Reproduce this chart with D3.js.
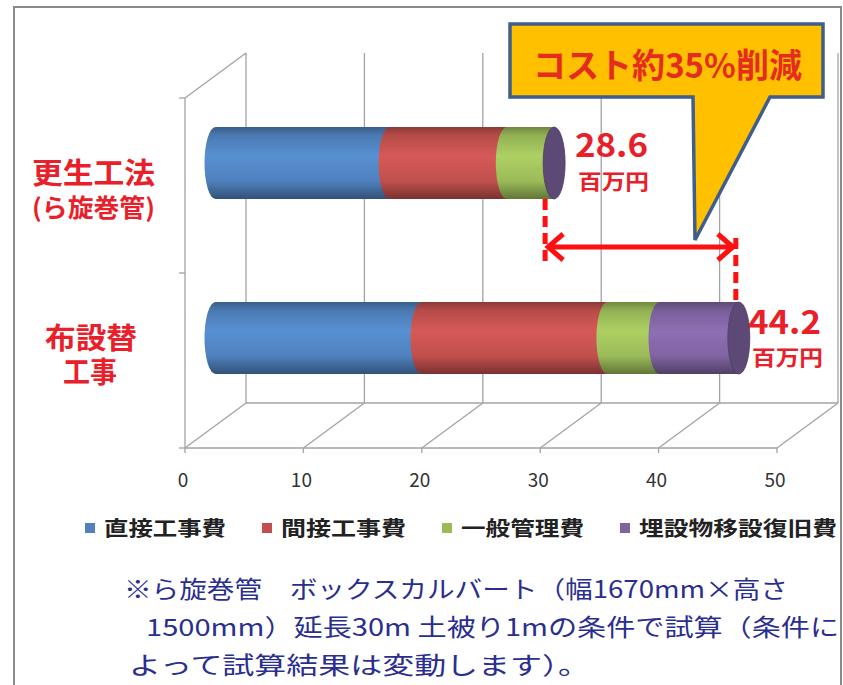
<!DOCTYPE html>
<html>
<head>
<meta charset="utf-8">
<script src="https://cdn.jsdelivr.net/npm/d3@7"></script>
<style>
body { margin: 0; background: #fff; }
text { font-family: "Noto Sans CJK JP", "Noto Sans", sans-serif; }
</style>
</head>
<body>
<div id="chart"></div>
<script>
// data (百万円)
const categories = ["更生工法", "布設替工事"];
const series = ["直接工事費", "間接工事費", "一般管理費", "埋設物移設復旧費"];
const costRenewal = [14.7, 9.9, 4.0, 0];
const costReplace = [17.4, 15.7, 4.4, 6.7];
const totals = [28.6, 44.2];
const xTicks = [0, 10, 20, 30, 40, 50];
const seriesColors = ["#4f81bd", "#c0504d", "#9bbb59", "#8064a2"];
const catLabels = [["更生工法", "(ら旋巻管)"], ["布設替", "工事"]];
const calloutText = "コスト約35%削減";
const noteLines = [
    "※ら旋巻管　ボックスカルバート（幅1670mm×高さ",
    "1500mm）延長30m 土被り1mの条件で試算（条件に",
    "よって試算結果は変動します）。"
];

const width = 843, height = 685;
const red = "#e8202a";

var svg = d3.select("#chart")
    .append("svg")
    .attr("width", width)
    .attr("height", height);

// outer frame
svg.append("rect")
    .attr("x", 14).attr("y", 7)
    .attr("width", 827).attr("height", 700)
    .attr("fill", "#fff")
    .attr("stroke", "#8a8a8a")
    .attr("stroke-width", 2);

// scales: front plane of the 3d box, back plane is shifted by (DX, DY)
const DX = 61, DY = -45;
var x = d3.scaleLinear().domain([0, 50]).range([185, 777]);
var y = d3.scaleBand().domain(categories).range([98, 448]);
const xBar = v => x(v) + DX / 2;
const yBar = c => y(c) + y.bandwidth() / 2 + DY / 2;
const floorY = 448, topY = 98;

var grid = svg.append("g")
    .attr("stroke", "#a3a3a3")
    .attr("stroke-width", 1.3)
    .attr("fill", "none");

// back wall gridlines
grid.selectAll(".back")
    .data(xTicks)
    .enter().append("line")
    .attr("x1", d => x(d) + DX).attr("x2", d => x(d) + DX)
    .attr("y1", topY + DY).attr("y2", floorY + DY);

// floor diagonals
grid.selectAll(".diag")
    .data(xTicks)
    .enter().append("line")
    .attr("x1", d => x(d)).attr("y1", floorY)
    .attr("x2", d => x(d) + DX).attr("y2", floorY + DY);

// floor edges
grid.append("line")
    .attr("x1", x(0)).attr("x2", x(50)).attr("y1", floorY).attr("y2", floorY);
grid.append("line")
    .attr("x1", x(0) + DX).attr("x2", x(50) + DX).attr("y1", floorY + DY).attr("y2", floorY + DY);

// left wall
grid.append("line")
    .attr("x1", x(0)).attr("x2", x(0)).attr("y1", topY).attr("y2", floorY);
grid.append("line")
    .attr("x1", x(0)).attr("y1", topY).attr("x2", x(0) + DX).attr("y2", topY + DY);

// ticks
grid.selectAll(".xt")
    .data(xTicks)
    .enter().append("line")
    .attr("x1", d => x(d)).attr("x2", d => x(d))
    .attr("y1", floorY).attr("y2", floorY + 5);
grid.selectAll(".yt")
    .data([topY, y(categories[1]), floorY])
    .enter().append("line")
    .attr("x1", x(0) - 6).attr("x2", x(0))
    .attr("y1", d => d).attr("y2", d => d);

// tick labels
svg.selectAll(".xlab")
    .data(xTicks)
    .enter().append("text")
    .attr("x", d => x(d) - 2)
    .attr("y", 478)
    .attr("text-anchor", "middle")
    .attr("dominant-baseline", "central")
    .attr("font-size", 19)
    .attr("fill", "#333")
    .text(d => d);

// cylinder gradients
var defs = svg.append("defs");
seriesColors.forEach(function (c, i) {
    var g = defs.append("linearGradient")
        .attr("id", "grad" + i)
        .attr("x1", 0).attr("x2", 0).attr("y1", 0).attr("y2", 1);
    var base = d3.color(c);
    [[0, base.darker(0.9)], [0.12, base.darker(0.15)], [0.4, base.brighter(0.3)],
     [0.75, base], [1, base.darker(1.3)]].forEach(function (s) {
        g.append("stop").attr("offset", s[0]).attr("stop-color", s[1]);
    });
});

// stacked cylinders
const rx = 11, ry = 36;
var stacks = [costRenewal, costReplace];
var bars = svg.append("g");
stacks.forEach(function (vals, ci) {
    var cy = yBar(categories[ci]);
    var acc = 0;
    vals.forEach(function (v, si) {
        var x0 = xBar(acc), x1 = xBar(acc + v);
        acc += v;
        if (v <= 0) return;
        bars.append("path")
            .attr("d", `M${x0},${cy - ry} H${x1} V${cy + ry} H${x0} A${rx},${ry} 0 0 1 ${x0},${cy - ry} Z`)
            .attr("fill", `url(#grad${si})`);
    });
    // end cap
    bars.append("ellipse")
        .attr("cx", xBar(acc)).attr("cy", cy)
        .attr("rx", rx).attr("ry", ry)
        .attr("fill", d3.color(seriesColors[3]).darker(0.9))
        .attr("stroke", d3.color(seriesColors[3]).darker(1.4))
        .attr("stroke-width", 0.8);
});

// dashed markers and the difference arrow
var yArrow = 247;
var xa = xBar(totals[0]) - 9, xb = xBar(totals[1]) - 3;
var marks = svg.append("g")
    .attr("stroke", "#ff1010")
    .attr("stroke-width", 5)
    .attr("fill", "none");
marks.append("line")
    .attr("x1", xa).attr("x2", xa)
    .attr("y1", yBar(categories[0]) + ry).attr("y2", 262)
    .attr("stroke-dasharray", "11,6");
marks.append("line")
    .attr("x1", xb).attr("x2", xb)
    .attr("y1", 238).attr("y2", yBar(categories[1]) - ry)
    .attr("stroke-dasharray", "11,6");
marks.append("line")
    .attr("x1", xa + 2).attr("x2", xb - 2)
    .attr("y1", yArrow).attr("y2", yArrow);
marks.append("polyline")
    .attr("points", `${xa + 18},${yArrow - 13} ${xa + 3},${yArrow} ${xa + 18},${yArrow + 13}`)
    .attr("stroke-linejoin", "miter");
marks.append("polyline")
    .attr("points", `${xb - 18},${yArrow - 13} ${xb - 3},${yArrow} ${xb - 18},${yArrow + 13}`)
    .attr("stroke-linejoin", "miter");

// callout
svg.append("path")
    .attr("d", "M510,24 H823 V97 H770 L695,240 L693,97 H510 Z")
    .attr("fill", "#ffc000")
    .attr("stroke", "#3f5e8c")
    .attr("stroke-width", 3.5)
    .attr("stroke-linejoin", "miter");

function fit(sel, w) {
    return sel.attr("textLength", w).attr("lengthAdjust", "spacingAndGlyphs");
}

fit(svg.append("text")
    .attr("x", 533).attr("y", 63)
    .attr("dominant-baseline", "central")
    .attr("font-size", 34)
    .attr("font-weight", 700)
    .attr("fill", "#e52d1f")
    .text(calloutText), 269);

// total labels, number and unit as two lines of one text
var totPos = [[575, 143, 578, 180], [748, 320, 752, 356]];
totals.forEach(function (t, i) {
    var p = totPos[i];
    var tt = svg.append("text")
        .attr("font-weight", 700)
        .attr("fill", red);
    fit(tt.append("tspan")
        .attr("x", p[0]).attr("y", p[1])
        .attr("dominant-baseline", "central")
        .attr("font-size", 32)
        .text(t.toFixed(1)), 73);
    fit(tt.append("tspan")
        .attr("x", p[2]).attr("y", p[3])
        .attr("dominant-baseline", "central")
        .attr("font-size", 21)
        .text("百万円"), 71);
});

// category labels
var catPos = [[[32, 171, 29, 123], [32, 206, 25, 123]], [[45, 336, 29, 92], [63, 370, 29, 54]]];
catLabels.forEach(function (lines, i) {
    var t = svg.append("text")
        .attr("font-weight", 700)
        .attr("fill", red);
    lines.forEach(function (s, j) {
        var p = catPos[i][j];
        fit(t.append("tspan")
            .attr("x", p[0]).attr("y", p[1])
            .attr("dominant-baseline", "central")
            .attr("font-size", p[2])
            .text(s), p[3]);
    });
});

// legend
var legX = [85, 262, 442, 620];
var legW = [122, 125, 123, 198];
var legend = svg.append("g");
series.forEach(function (s, i) {
    legend.append("rect")
        .attr("x", legX[i]).attr("y", 523)
        .attr("width", 10).attr("height", 10)
        .attr("fill", seriesColors[i]);
    fit(legend.append("text")
        .attr("x", legX[i] + 19).attr("y", 527)
        .attr("dominant-baseline", "central")
        .attr("font-size", 20)
        .attr("font-weight", 700)
        .attr("fill", "#222")
        .text(s), legW[i]);
});

// footnote
var noteX = [124, 146, 129], noteY = [587, 625, 663], noteW = [664, 693, 461];
noteLines.forEach(function (s, i) {
    fit(svg.append("text")
        .attr("x", noteX[i]).attr("y", noteY[i])
        .attr("dominant-baseline", "central")
        .attr("font-size", 24)
        .attr("fill", "#2a2f8f")
        .text(s), noteW[i]);
});
</script>
</body>
</html>
